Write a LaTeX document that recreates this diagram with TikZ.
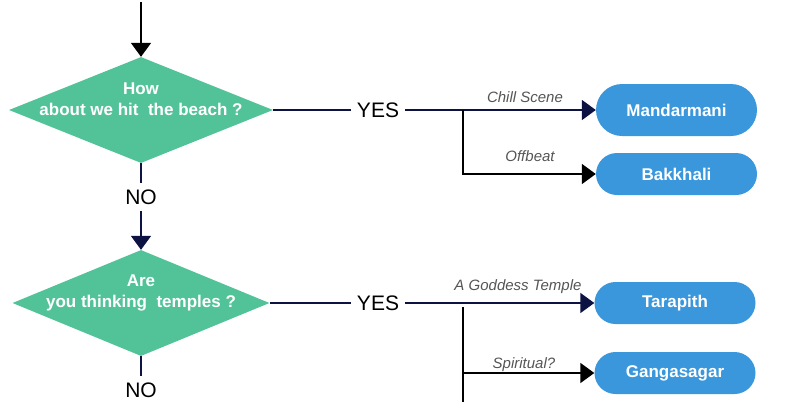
\documentclass[tikz,border=0pt]{standalone}
\usepackage{fontspec}
\setmainfont{Liberation Sans}
\usetikzlibrary{arrows.meta,shapes.geometric,shapes.misc}
\definecolor{dgreen}{RGB}{82,195,153}
\definecolor{pblue}{RGB}{58,151,220}
\definecolor{navy}{RGB}{12,18,66}
\definecolor{lgray}{RGB}{85,85,85}
\tikzset{
  decision/.style={diamond, fill=dgreen, draw=none, inner sep=0pt, minimum width=#1, minimum height=106pt},
  dtext/.style={text=white, font=\fontsize{17}{21}\selectfont\bfseries, align=center, inner sep=0pt},
  pill/.style={rounded rectangle, fill=pblue, draw=none, minimum width=161pt, minimum height=#1, text=white, font=\fontsize{17}{20}\selectfont\bfseries, inner sep=0pt},
  answer/.style={font=\fontsize{21}{24}\selectfont, inner sep=6pt},
  elabel/.style={font=\fontsize{15}{17}\selectfont\itshape, text=lgray, inner sep=0pt},
  conn/.style={draw=navy, line width=1.8pt},
  arr/.style={conn, -{Triangle[width=20pt,length=14pt]}},
}
\begin{document}
\begin{tikzpicture}[x=1pt,y=-1pt]
\useasboundingbox (0,0) rectangle (800,402);
% decisions
\node[decision=264pt] (d1) at (141,110) {};
\node[dtext] (t1) at (141,99.5) {How\\about we hit\ \ the beach ?};
\node[decision=257pt] (d2) at (141,303) {};
\node[dtext] (t2) at (141,292.5) {Are\\you thinking\ \ temples ?};
% outcomes
\node[pill=52pt] (man) at (676.5,110) {Mandarmani};
\node[pill=42pt] (bak) at (676.5,174) {Bakkhali};
\node[pill=42pt] (tar) at (675,303) {Tarapith};
\node[pill=42pt] (gan) at (675,373) {Gangasagar};
% answers
\node[answer] (yes1) at (378,110) {YES};
\node[answer] (yes2) at (378,303) {YES};
\node[answer] (no1) at (141,197) {NO};
\node[answer] (no2) at (141,390) {NO};
% coordinates
\coordinate (start) at (141,2);
\coordinate (b1) at (463,110);
\coordinate (b2) at (463,307);
\coordinate (bend) at (463,402);
% connectors
\draw[arr, draw=black] (start) -- (d1.north);
\draw[conn] (d1.south) -- (no1.north);
\draw[arr] (no1.south) -- (d2.north);
\draw[conn] (d2.south) -- (no2.north);
\draw[conn] (d1.east) -- (yes1.west);
\draw[arr] (yes1.east) -- (man.west);
\draw[arr, draw=black] (b1) |- (bak.west);
\draw[conn] (d2.east) -- (yes2.west);
\draw[arr] (yes2.east) -- (tar.west);
\draw[conn, draw=black] (b2) -- (bend);
\draw[arr, draw=black] (b2) |- (gan.west);
% edge labels
\node[elabel] (l1) at (525,97) {Chill Scene};
\node[elabel] (l2) at (530,156) {Offbeat};
\node[elabel] (l3) at (518,287) {A Goddess Temple};
\node[elabel] (l4) at (524,365) {Spiritual?};
\end{tikzpicture}
\end{document}
